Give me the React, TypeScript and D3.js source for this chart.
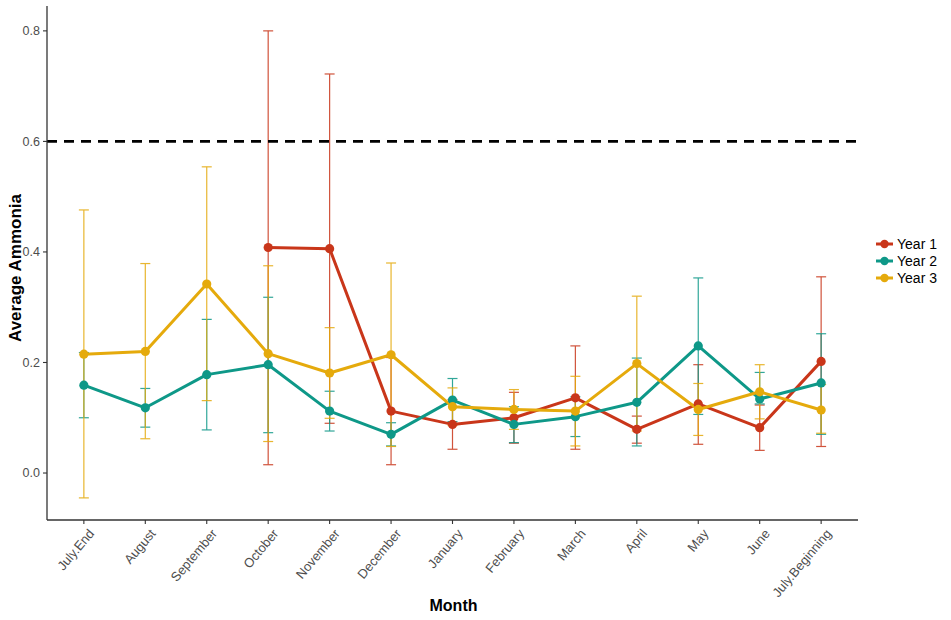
import { useEffect, useRef } from 'react';
import * as d3 from 'd3';

const MONTHS = ['July.End', 'August', 'September', 'October', 'November', 'December', 'January',
  'February', 'March', 'April', 'May', 'June', 'July.Beginning'];

const YEARS = ['Year 1', 'Year 2', 'Year 3'];

// mean, lower, upper per month (null = no data)
const YEAR1_MEAN = [null, null, null, 0.408, 0.406, 0.112, 0.088, 0.100, 0.136, 0.079, 0.125, 0.082, 0.202];
const YEAR1_LO = [null, null, null, 0.015, 0.090, 0.015, 0.043, 0.054, 0.043, 0.054, 0.052, 0.041, 0.048];
const YEAR1_HI = [null, null, null, 0.800, 0.722, 0.209, 0.133, 0.146, 0.230, 0.103, 0.196, 0.123, 0.355];

const YEAR2_MEAN = [0.159, 0.118, 0.178, 0.196, 0.112, 0.070, 0.132, 0.088, 0.102, 0.128, 0.230, 0.134, 0.163];
const YEAR2_LO = [0.100, 0.083, 0.078, 0.073, 0.076, 0.049, 0.093, 0.055, 0.066, 0.049, 0.106, 0.125, 0.070];
const YEAR2_HI = [0.218, 0.153, 0.278, 0.318, 0.148, 0.091, 0.171, 0.120, 0.138, 0.208, 0.353, 0.182, 0.252];

const YEAR3_MEAN = [0.215, 0.220, 0.342, 0.216, 0.181, 0.214, 0.120, 0.115, 0.112, 0.198, 0.115, 0.147, 0.114];
const YEAR3_LO = [-0.045, 0.062, 0.131, 0.057, 0.099, 0.048, 0.086, 0.079, 0.049, 0.076, 0.068, 0.098, 0.072];
const YEAR3_HI = [0.476, 0.379, 0.554, 0.375, 0.263, 0.380, 0.154, 0.151, 0.175, 0.320, 0.162, 0.196, 0.160];

const Y_TICKS = [0, 0.2, 0.4, 0.6, 0.8];
const THRESHOLD = 0.6;

const COLORS = ['#C9361A', '#0E9888', '#E5AA0C'];

interface Pt { month: string; mean: number; lo: number; hi: number }

function build(mean: (number | null)[], lo: (number | null)[], hi: (number | null)[]): Pt[] {
  const out: Pt[] = [];
  MONTHS.forEach((m, i) => {
    if (mean[i] == null) return;
    out.push({ month: m, mean: mean[i] as number, lo: lo[i] as number, hi: hi[i] as number });
  });
  return out;
}

const SERIES = [
  build(YEAR1_MEAN, YEAR1_LO, YEAR1_HI),
  build(YEAR2_MEAN, YEAR2_LO, YEAR2_HI),
  build(YEAR3_MEAN, YEAR3_LO, YEAR3_HI),
];

const W = 951, H = 620;
const FONT = 'Liberation Sans, Arial, sans-serif';

export default function App() {
  const svgRef = useRef<SVGSVGElement>(null);

  useEffect(() => {
    if (!svgRef.current) return;
    const svg = d3.select(svgRef.current);
    svg.selectAll('*').remove();

    const left = 47, right = 858, top = 6, bottom = 520;
    const x = d3.scalePoint<string>().domain(MONTHS).range([left, right]).padding(0.6);
    const y = d3.scaleLinear().domain([-0.085, 0.845]).range([bottom, top]);

    // error bars
    const capW = 5;
    SERIES.forEach((s, k) => {
      const g = svg.append('g').attr('stroke', COLORS[k]).attr('stroke-width', 1.2).attr('opacity', 0.85);
      s.forEach(d => {
        const cx = x(d.month)!;
        g.append('line').attr('x1', cx).attr('x2', cx).attr('y1', y(d.lo)).attr('y2', y(d.hi));
        g.append('line').attr('x1', cx - capW).attr('x2', cx + capW).attr('y1', y(d.lo)).attr('y2', y(d.lo));
        g.append('line').attr('x1', cx - capW).attr('x2', cx + capW).attr('y1', y(d.hi)).attr('y2', y(d.hi));
      });
    });

    // lines
    const line = d3.line<Pt>().x(d => x(d.month)!).y(d => y(d.mean));
    SERIES.forEach((s, k) => {
      svg.append('path').datum(s).attr('d', line).attr('fill', 'none')
        .attr('stroke', COLORS[k]).attr('stroke-width', 3).attr('stroke-linejoin', 'round');
    });

    // points
    SERIES.forEach((s, k) => {
      svg.append('g').selectAll('circle').data(s).enter().append('circle')
        .attr('cx', d => x(d.month)!).attr('cy', d => y(d.mean)).attr('r', 4.6)
        .attr('fill', COLORS[k]);
    });

    // threshold
    svg.append('line').attr('x1', left).attr('x2', right)
      .attr('y1', y(THRESHOLD)).attr('y2', y(THRESHOLD))
      .attr('stroke', '#000').attr('stroke-width', 2.8).attr('stroke-dasharray', '10,7');

    // axes
    const axisG = svg.append('g');
    axisG.append('line').attr('x1', left).attr('x2', left).attr('y1', top).attr('y2', bottom)
      .attr('stroke', '#333').attr('stroke-width', 1.3);
    axisG.append('line').attr('x1', left).attr('x2', right).attr('y1', bottom).attr('y2', bottom)
      .attr('stroke', '#333').attr('stroke-width', 1.3);

    Y_TICKS.forEach(t => {
      axisG.append('line').attr('x1', left - 4).attr('x2', left).attr('y1', y(t)).attr('y2', y(t))
        .attr('stroke', '#333').attr('stroke-width', 1.1);
      axisG.append('text').attr('x', left - 7).attr('y', y(t)).attr('dy', '0.35em')
        .attr('text-anchor', 'end').attr('font-family', FONT).attr('font-size', 12.5)
        .attr('fill', '#4d4d4d').text(t.toFixed(1));
    });

    MONTHS.forEach(m => {
      const cx = x(m)!;
      axisG.append('line').attr('x1', cx).attr('x2', cx).attr('y1', bottom).attr('y2', bottom + 4)
        .attr('stroke', '#333').attr('stroke-width', 1.1);
      axisG.append('text')
        .attr('transform', `translate(${cx + 4},${bottom + 8}) rotate(-50)`)
        .attr('text-anchor', 'end').attr('dy', '0.7em')
        .attr('font-family', FONT).attr('font-size', 13).attr('fill', '#4d4d4d').text(m);
    });

    // titles
    svg.append('text').attr('x', (left + right) / 2 + 1).attr('y', 611).attr('text-anchor', 'middle')
      .attr('font-family', FONT).attr('font-size', 16).attr('font-weight', 'bold').attr('fill', '#000')
      .text('Month');
    svg.append('text').attr('transform', `translate(21,${(top + bottom) / 2 + 5}) rotate(-90)`)
      .attr('text-anchor', 'middle').attr('font-family', FONT).attr('font-size', 17)
      .attr('font-weight', 'bold').attr('fill', '#000').text('Average Ammonia');

    // legend
    const lg = svg.append('g').attr('transform', 'translate(876,244)');
    YEARS.forEach((name, k) => {
      const row = lg.append('g').attr('transform', `translate(0,${k * 17})`);
      row.append('line').attr('x1', 0).attr('x2', 17).attr('y1', 0).attr('y2', 0)
        .attr('stroke', COLORS[k]).attr('stroke-width', 3);
      row.append('circle').attr('cx', 8.5).attr('cy', 0).attr('r', 4.2).attr('fill', COLORS[k]);
      row.append('text').attr('x', 21).attr('y', 0).attr('dy', '0.36em')
        .attr('font-family', FONT).attr('font-size', 14).attr('fill', '#000').text(name);
    });
  }, []);

  return (
    <svg ref={svgRef} width={W} height={H}
      style={{ position: 'absolute', left: 0, top: 0, background: '#fff' }} />
  );
}
